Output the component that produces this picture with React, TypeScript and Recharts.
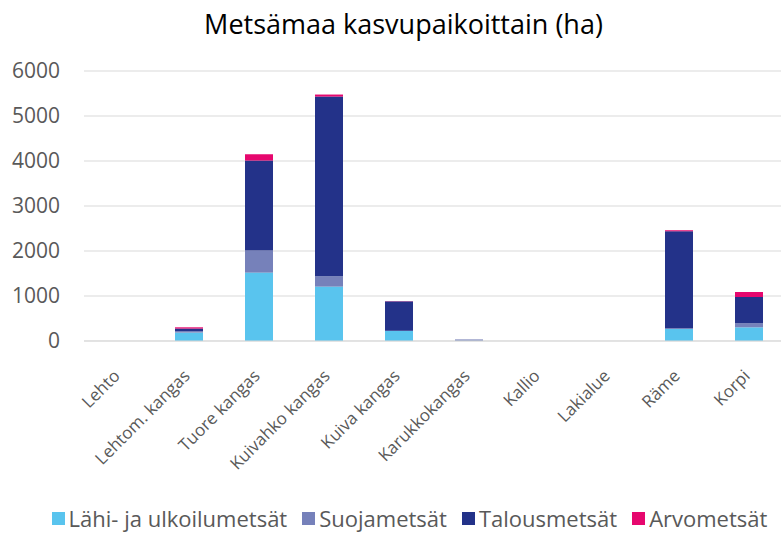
import React from 'react';
import { BarChart, Bar, XAxis, YAxis, CartesianGrid } from 'recharts';

// kasvupaikat ja kuvion arvot (ha), luettu kuvasta
const categories = ['Lehto', 'Lehtom. kangas', 'Tuore kangas', 'Kuivahko kangas', 'Kuiva kangas', 'Karukkokangas', 'Kallio', 'Lakialue', 'Räme', 'Korpi'];
const lahi = [0, 187, 1520, 1209, 222, 5, 0, 0, 267, 304];
const suoja = [0, 35, 490, 230, 5, 15, 0, 0, 22, 89];
const talous = [0, 54, 2000, 3993, 654, 10, 0, 0, 2150, 585];
const arvo = [0, 28, 140, 45, 5, 0, 0, 0, 22, 111];
const yTicks = [0, 1000, 2000, 3000, 4000, 5000, 6000];

const series = [
    { key: 'lahi', name: 'Lähi- ja ulkoilumetsät', color: '#59C4EE' },
    { key: 'suoja', name: 'Suojametsät', color: '#7681BA' },
    { key: 'talous', name: 'Talousmetsät', color: '#233289' },
    { key: 'arvo', name: 'Arvometsät', color: '#E6076E' },
];

const data = categories.map((name, i) => ({
    name,
    lahi: lahi[i],
    suoja: suoja[i],
    talous: talous[i],
    arvo: arvo[i],
}));

const FONT = '"Open Sans", "Noto Sans", sans-serif';
const TEXT = '#595959';

// kallistetut luokkanimet, kuten Excelissä
const AngledTick = ({ x, y, payload }: any) => {
    const ax = x + 2;
    const ay = y + 28;
    return (
        <text
            x={ax}
            y={ay}
            textAnchor="end"
            transform={`rotate(-45, ${ax}, ${ay})`}
            fill={TEXT}
            fontSize={17}
            fontFamily={FONT}
        >
            {payload.value}
        </text>
    );
};

export default function App() {
    return (
        <div style={{ position: 'absolute', left: 0, top: 0, width: 781, height: 533, overflow: 'hidden', background: '#fff', fontFamily: FONT }}>
            <div style={{ position: 'absolute', left: 0, width: 781, top: 5, textAlign: 'center', fontSize: 27, color: '#000', transform: 'translateX(13px)' }}>
                Metsämaa kasvupaikoittain (ha)
            </div>
            <BarChart
                width={790}
                height={533}
                data={data}
                margin={{ top: 71, right: 6, left: 0, bottom: 0 }}
                barSize={28}
            >
                <CartesianGrid vertical={false} stroke="#D9D9D9" strokeWidth={1} />
                <XAxis
                    dataKey="name"
                    height={192}
                    interval={0}
                    axisLine={{ stroke: '#D9D9D9' }}
                    tickLine={false}
                    tick={<AngledTick />}
                />
                <YAxis
                    width={84}
                    domain={[0, 6000]}
                    ticks={yTicks}
                    axisLine={false}
                    tickLine={false}
                    tickSize={0}
                    tickMargin={24}
                    tick={{ fill: TEXT, fontSize: 21, fontFamily: FONT }}
                />
                {series.map((s) => (
                    <Bar key={s.key} dataKey={s.key} name={s.name} stackId="a" fill={s.color} isAnimationActive={false} />
                ))}
            </BarChart>
            <div style={{ position: 'absolute', left: 0, width: 781, top: 503, display: 'flex', justifyContent: 'center', gap: 15, fontSize: 22, color: TEXT, transform: 'translateX(19px)', whiteSpace: 'nowrap' }}>
                {series.map((s) => (
                    <div key={s.key} style={{ display: 'flex', alignItems: 'center', gap: 4 }}>
                        <span style={{ display: 'inline-block', width: 13, height: 13, background: s.color }} />
                        <span>{s.name}</span>
                    </div>
                ))}
            </div>
        </div>
    );
}
